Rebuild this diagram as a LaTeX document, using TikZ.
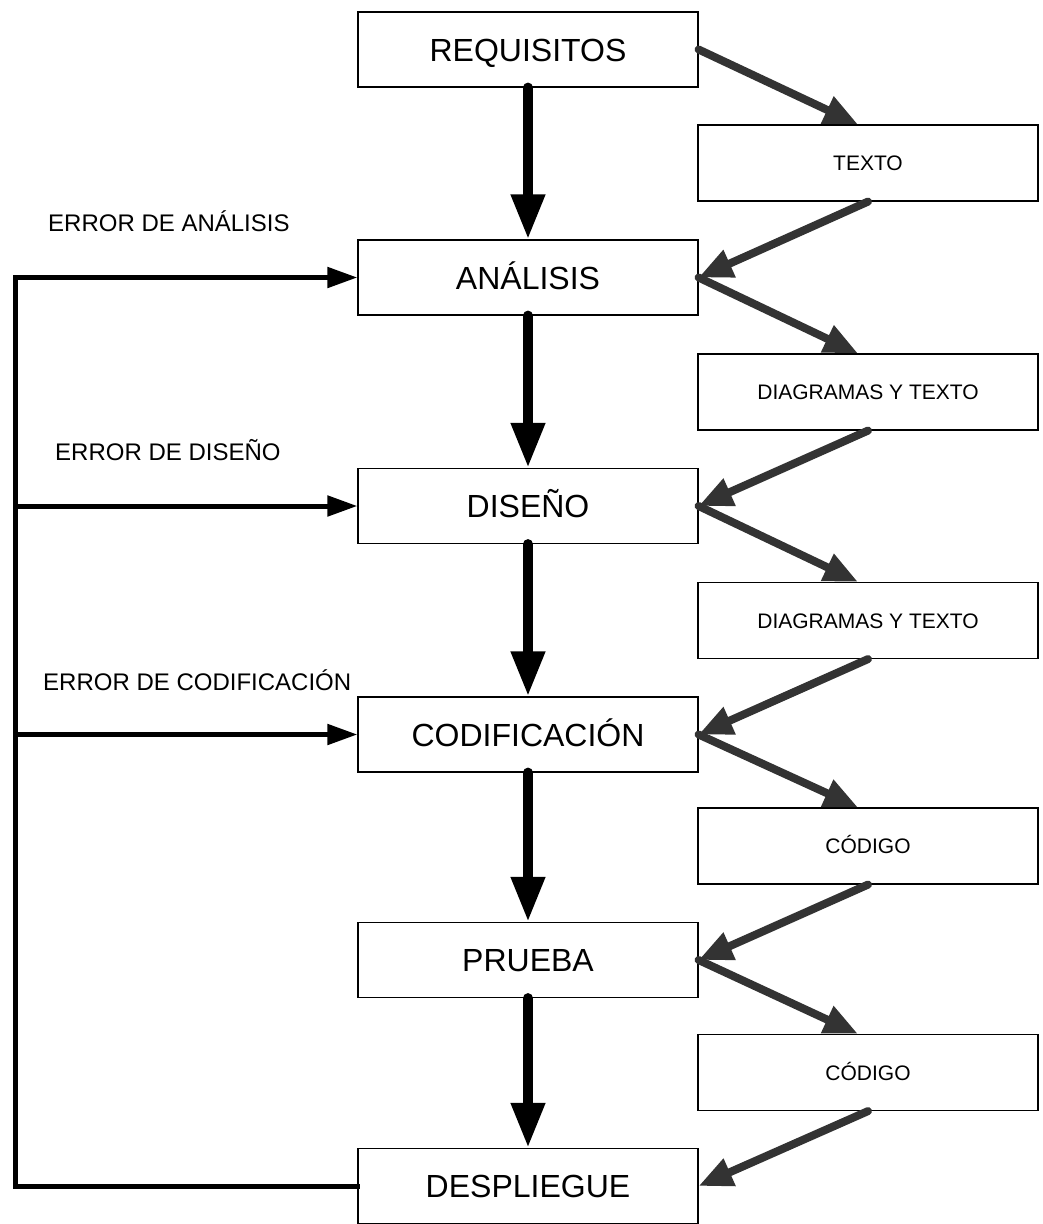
\documentclass[tikz,border=0pt]{standalone}
\usepackage{fontspec}
\setmainfont{Liberation Sans}
\usetikzlibrary{positioning}
\usetikzlibrary{arrows.meta}

\begin{document}
\begin{tikzpicture}[x=1pt,y=-1pt,
  etapa/.style={draw, line width=1.2pt, minimum width=340pt, minimum height=75pt,
    inner sep=0pt, text height=23pt, text depth=0pt, font=\fontsize{32}{38}\selectfont},
  producto/.style={draw, line width=1.2pt, minimum width=340pt, minimum height=76pt,
    inner sep=0pt, text height=15pt, text depth=0pt, font=\fontsize{21}{25}\selectfont},
  errlabel/.style={anchor=west, inner sep=0pt, text height=17pt, text depth=0pt,
    font=\fontsize{24}{28}\selectfont},
  flujo/.style={line width=10pt, line cap=round, -{Triangle[length=45pt,width=32pt]}},
  salida/.style={draw=black!80, line width=8pt, line cap=round,
    -{Triangle[length=34pt,width=28pt]}},
  retorno/.style={line width=5pt, -{Triangle[length=30pt,width=20pt]}}]
  \useasboundingbox (0,0) rectangle (1043,1224);

  % Etapas
  \node[etapa] (req) at (528,49.5) {REQUISITOS};
  \node[etapa] (ana) at (528,277.5) {ANÁLISIS};
  \node[etapa] (dis) at (528,506) {DISEÑO};
  \node[etapa] (cod) at (528,734.5) {CODIFICACIÓN};
  \node[etapa] (pru) at (528,960) {PRUEBA};
  \node[etapa] (des) at (528,1186) {DESPLIEGUE};

  % Productos
  \node[producto] (txt) at (868,163) {TEXTO};
  \node[producto] (dia1) at (868,392) {DIAGRAMAS Y TEXTO};
  \node[producto] (dia2) at (868,620.5) {DIAGRAMAS Y TEXTO};
  \node[producto] (cdg1) at (868,846) {CÓDIGO};
  \node[producto] (cdg2) at (868,1072.5) {CÓDIGO};

  % Flujo principal
  \draw[flujo] (req.south) -- (ana.north);
  \draw[flujo] (ana.south) -- (dis.north);
  \draw[flujo] (dis.south) -- (cod.north);
  \draw[flujo] (cod.south) -- (pru.north);
  \draw[flujo] (pru.south) -- (des.north);

  % Salidas y entradas
  \draw[salida] (req.east) -- ([xshift=-10pt]txt.north);
  \draw[salida] (txt.south) -- (ana.east);
  \draw[salida] (ana.east) -- ([xshift=-10pt]dia1.north);
  \draw[salida] (dia1.south) -- (dis.east);
  \draw[salida] (dis.east) -- ([xshift=-10pt]dia2.north);
  \draw[salida] (dia2.south) -- (cod.east);
  \draw[salida] (cod.east) -- ([xshift=-10pt]cdg1.north);
  \draw[salida] (cdg1.south) -- (pru.east);
  \draw[salida] (pru.east) -- ([xshift=-10pt]cdg2.north);
  \draw[salida] (cdg2.south) -- (des.east);

  % Retornos por error
  \coordinate (riel) at (15,0);
  \draw[line width=5pt, line cap=rect] (des.west) -- (des.west -| riel) -- (ana.west -| riel);
  \draw[retorno] (ana.west -| riel) -- (ana.west);
  \draw[retorno] (dis.west -| riel) -- (dis.west);
  \draw[retorno] (cod.west -| riel) -- (cod.west);

  % Labels
  \node[errlabel] (eana) at (48,223) {ERROR DE ANÁLISIS};
  \node[errlabel] (edis) at (55,452) {ERROR DE DISEÑO};
  \node[errlabel] (ecod) at (43,682) {ERROR DE CODIFICACIÓN};
\end{tikzpicture}
\end{document}
